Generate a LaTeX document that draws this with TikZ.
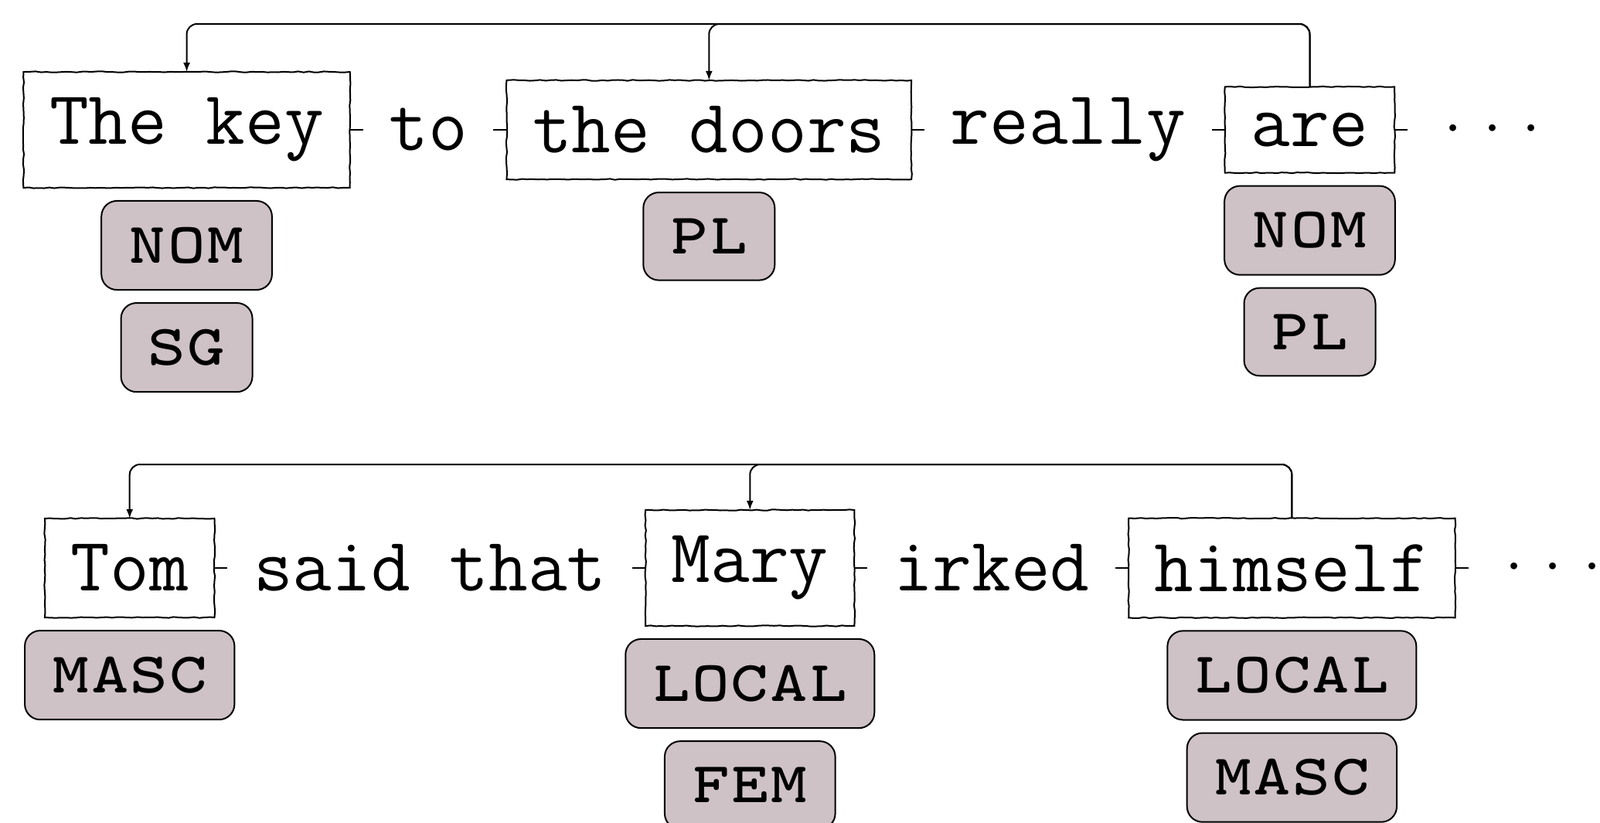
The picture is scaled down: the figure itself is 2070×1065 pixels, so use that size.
\documentclass[tikz,border=0pt]{standalone}
\usetikzlibrary{positioning,arrows.meta,decorations.pathmorphing}
\definecolor{tagfill}{RGB}{206,194,198}
\newcommand\tdots{\makebox[0.514em]{$\cdot$}\makebox[0.514em]{$\cdot$}\makebox[0.514em]{$\cdot$}}
\begin{document}
\begin{tikzpicture}[x=0.3pt,y=-0.3pt,
  font=\fontsize{29.54pt}{35pt}\selectfont\ttfamily,
  every node/.style={outer sep=0pt},
  sketch/.style={decorate, decoration={random steps, segment length=2pt, amplitude=0.2pt}},
  wordbox/.style={draw, line width=0.6pt, inner sep=10.1pt, fill=white, sketch},
  plainword/.style={inner sep=10.1pt},
  tagbox/.style={draw, line width=0.6pt, fill=tagfill, rounded corners=6pt,
    inner xsep=10.3pt, inner ysep=10.2pt,
    font=\fontsize{28.95pt}{34pt}\selectfont\ttfamily\scshape},
  link/.style={line width=0.6pt},
  arc/.style={line width=0.6pt, rounded corners=4pt, -{Latex[length=3.6pt,width=2.7pt]}},
  node distance=5.1pt]
\useasboundingbox (0,0) rectangle (2070,1065);

% ---- row 1
\node[wordbox, anchor=west] (w1) at (30.4,168) {The key};
\node[plainword, right=of w1] (w2) {to};
\node[wordbox, right=of w2] (w3) {the doors};
\node[plainword, right=of w3] (w4) {really};
\node[wordbox, right=of w4] (w5) {are};
\node[plainword, right=of w5] (w6) {\tdots};
\draw[link] (w1) -- (w2);
\draw[link] (w2) -- (w3);
\draw[link] (w3) -- (w4);
\draw[link] (w4) -- (w5);
\draw[link] (w5) -- (w6);

\node[tagbox, below=of w1] (t1a) {nom};
\node[tagbox, below=of t1a] (t1b) {sg};
\node[tagbox, below=of w3] (t3a) {pl};
\node[tagbox, below=of w5] (t5a) {nom};
\node[tagbox, below=of t5a] (t5b) {pl};

\coordinate (h1) at (0,31);
\draw[arc] (w5.north) -- (w5.north |- h1) -| (w1.north);
\draw[arc] (w5.north) -- (w5.north |- h1) -| (w3.north);

% ---- row 2
\node[wordbox, anchor=west] (v1) at (58,735) {Tom};
\node[plainword, right=of v1] (v2) {said that};
\node[wordbox, right=of v2] (v3) {Mary};
\node[plainword, right=of v3] (v4) {irked};
\node[wordbox, right=of v4] (v5) {himself};
\node[plainword, right=of v5] (v6) {\tdots};
\draw[link] (v1) -- (v2);
\draw[link] (v2) -- (v3);
\draw[link] (v3) -- (v4);
\draw[link] (v4) -- (v5);
\draw[link] (v5) -- (v6);

\node[tagbox, below=of v1] (s1a) {masc};
\node[tagbox, below=of v3] (s3a) {local};
\node[tagbox, below=of s3a] (s3b) {fem};
\node[tagbox, below=of v5] (s5a) {local};
\node[tagbox, below=of s5a] (s5b) {masc};

\coordinate (h2) at (0,601);
\draw[arc] (v5.north) -- (v5.north |- h2) -| (v1.north);
\draw[arc] (v5.north) -- (v5.north |- h2) -| (v3.north);
\end{tikzpicture}
\end{document}
